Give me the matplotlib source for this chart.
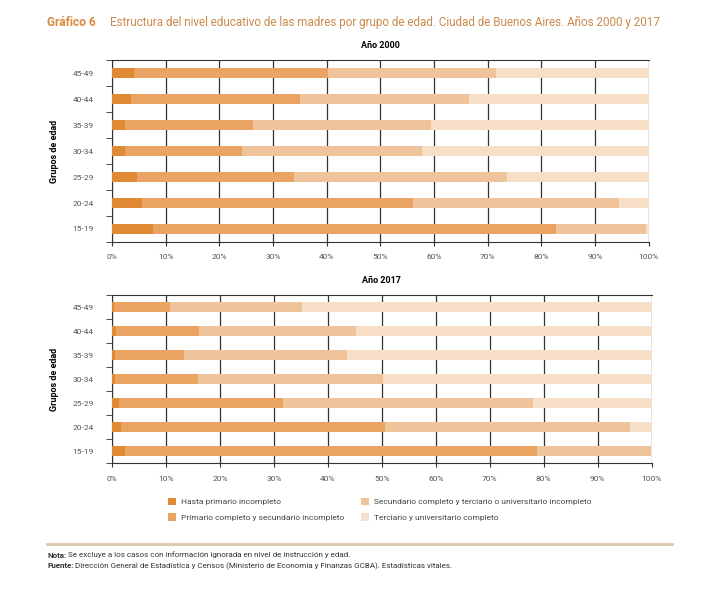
import matplotlib
matplotlib.use("Agg")
from matplotlib import pyplot as plt
from matplotlib.patches import Patch
import numpy as np

plt.rcParams['font.family'] = ['Roboto', 'DejaVu Sans']

# age groups, bottom to top
grupos = ["15-19", "20-24", "25-29", "30-34", "35-39", "40-44", "45-49"]
niveles = ["Hasta primario incompleto",
           "Primario completo y secundario incompleto",
           "Secundario completo y terciario o universitario incompleto",
           "Terciario y universitario completo"]

# year 2000 (%)
hasta_prim_2000 = [7.6, 5.6, 4.7, 2.5, 2.5, 3.5, 4.2]
prim_comp_2000 = [75.1, 50.4, 29.2, 21.8, 23.7, 31.5, 36.0]
sec_comp_2000 = [16.8, 38.5, 39.7, 33.4, 33.3, 31.5, 31.3]
terc_comp_2000 = [0.5, 5.5, 26.4, 42.3, 40.5, 33.5, 28.5]

# year 2017 (%)
hasta_prim_2017 = [2.5, 1.6, 1.4, 0.5, 0.5, 0.8, 0.4]
prim_comp_2017 = [76.3, 49.0, 30.3, 15.5, 12.8, 15.4, 10.4]
sec_comp_2017 = [21.0, 45.4, 46.3, 34.2, 30.3, 29.0, 24.5]
terc_comp_2017 = [0.2, 4.0, 22.0, 49.8, 56.4, 54.8, 64.7]

colores = ["#e08a35", "#e9a464", "#f0c49b", "#f7dfc7"]
orange = "#d98a3d"
gris = "#555555"


def panel(ax, series, titulo):
    y = np.arange(len(grupos))
    left = np.zeros(len(grupos))
    for vals, c in zip(series, colores):
        ax.barh(y, vals, left=left, height=0.4, color=c, zorder=3)
        left += np.array(vals)
    ax.set_xlim(0, 100)
    ax.set_ylim(-0.5, len(grupos) - 0.5)
    ax.set_xticks(np.arange(0, 101, 10))
    ax.set_xticklabels([f"{v}%" for v in range(0, 101, 10)], fontsize=6, color=gris)
    ax.set_yticks(y)
    ax.set_yticklabels(grupos, fontsize=6, color=gris)
    ax.set_yticks(np.arange(-0.5, len(grupos), 1), minor=True)
    ax.tick_params(axis="y", which="major", length=0, pad=13)
    ax.tick_params(axis="y", which="minor", length=4, direction="out", color="#333333")
    ax.tick_params(axis="x", length=3, direction="out", color="#333333", pad=6)
    ax.grid(axis="x", color="#333333", linewidth=0.9, zorder=0)
    for s in ["left", "bottom", "top"]:
        ax.spines[s].set_color("#333333")
        ax.spines[s].set_linewidth(0.8)
    ax.spines["right"].set_visible(False)
    ax.set_ylabel("Grupos de edad", fontsize=6.5, fontweight="bold", labelpad=10)
    ax.set_title(titulo, fontsize=6.5, fontweight="bold", pad=9)


fig = plt.figure(figsize=(7.13, 5.96), dpi=100)

ax1 = fig.add_axes([0.157, 0.594, 0.753, 0.305])
panel(ax1, [hasta_prim_2000, prim_comp_2000, sec_comp_2000, terc_comp_2000], "Año 2000")

ax2 = fig.add_axes([0.157, 0.223, 0.757, 0.282])
panel(ax2, [hasta_prim_2017, prim_comp_2017, sec_comp_2017, terc_comp_2017], "Año 2017")

# title
fig.text(47 / 713, 1 - 22 / 596, "Gráfico 6", fontsize=8.6, fontweight="bold", color=orange, va="center")
fig.text(110 / 713, 1 - 22 / 596,
         "Estructura del nivel educativo de las madres por grupo de edad. Ciudad de Buenos Aires. Años 2000 y 2017",
         fontsize=8.4, color="#c98a4c", va="center")

# legend
handles = [Patch(facecolor=c, edgecolor="none") for c in colores]
fig.legend(handles, niveles, loc="upper left", bbox_to_anchor=(160 / 713, 1 - 490 / 596),
           ncol=2, frameon=False, fontsize=6, handlelength=1.0, handleheight=1.0,
           columnspacing=2.0, labelspacing=1.0, handletextpad=0.6, labelcolor="#444444")

# separator and notes
fig.add_artist(plt.Line2D([47 / 713, 672 / 713], [1 - 544 / 596, 1 - 544 / 596],
                          color="#dcc8ad", linewidth=2))
fig.text(47 / 713, 1 - 555 / 596, "Nota:", fontsize=5.8, fontweight="bold", color="#333333", va="center")
fig.text(68 / 713, 1 - 555 / 596, "Se excluye a los casos con información ignorada en nivel de instrucción y edad.",
         fontsize=5.8, color="#333333", va="center")
fig.text(47 / 713, 1 - 566 / 596, "Fuente:", fontsize=5.8, fontweight="bold", color="#333333", va="center")
fig.text(75 / 713, 1 - 566 / 596,
         "Dirección General de Estadística y Censos (Ministerio de Economía y Finanzas GCBA). Estadísticas vitales.",
         fontsize=5.8, color="#333333", va="center")

fig.savefig("out.png", dpi=100, facecolor="white")
